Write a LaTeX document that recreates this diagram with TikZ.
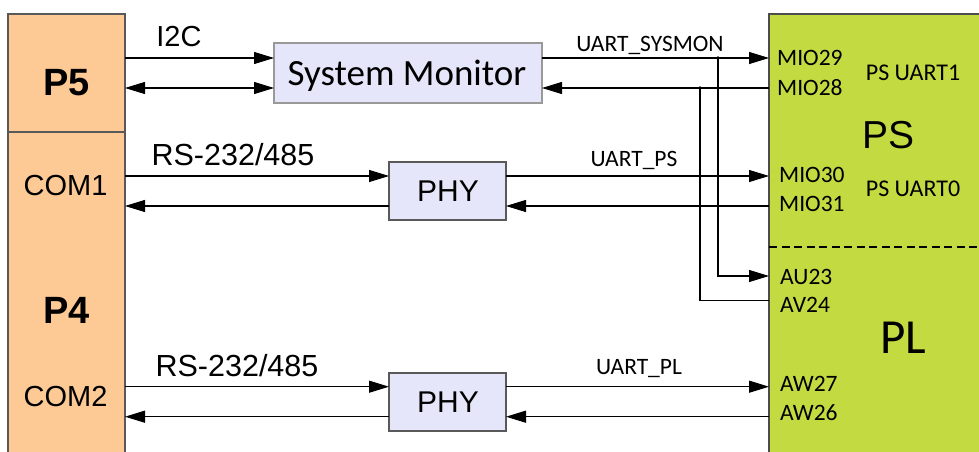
\documentclass[tikz,border=0pt]{standalone}
\usepackage{fontspec}
\setmainfont{Liberation Sans}
\newfontfamily\calfont{Carlito}
\usetikzlibrary{arrows.meta}
\definecolor{peach}{HTML}{FDCA96}
\definecolor{lav}{HTML}{E6E6FA}
\definecolor{chip}{HTML}{C3DA41}
\begin{document}
\begin{tikzpicture}[x=1pt,y=-1pt,
  blk/.style={draw=#1, line width=1.2pt, inner sep=0pt, outer sep=0pt, anchor=north west},
  lbl/.style={anchor=base, inner sep=0pt},
  lbll/.style={anchor=base west, inner sep=0pt},
  wire/.style={line width=1.1pt},
  arr/.style={wire, -{Triangle[length=20pt,width=12pt]}},
  darr/.style={wire, {Triangle[length=20pt,width=12pt]}-{Triangle[length=20pt,width=12pt]}},
  ar/.style={font=\fontsize{29}{31}\selectfont},
  rs/.style={font=\fontsize{30.5}{32}\selectfont},
  cb/.style={font=\calfont\fontsize{23.5}{26}\selectfont}
]
\useasboundingbox (0,0) rectangle (979,452);
% blocks
\node[blk=black!65, fill=peach, minimum width=117pt, minimum height=118pt] (p5) at (8,14) {};
\node[blk=black!65, fill=peach, minimum width=117pt, minimum height=322pt] (p4) at (8,132) {};
\node[blk=black!40, fill=lav, minimum width=268pt, minimum height=60pt] (sm) at (274,43) {};
\node[blk=black!65, fill=lav, minimum width=117pt, minimum height=58pt] (phy1) at (389,162) {};
\node[blk=black!65, fill=lav, minimum width=117pt, minimum height=58pt] (phy2) at (389,373) {};
\node[blk=black!70, fill=chip, minimum width=215pt, minimum height=445pt] (ps) at (769,14) {};
% texts on left
\node[lbl, font=\bfseries\fontsize{38}{40}\selectfont] (tp5) at (66.5,95) {P5};
\node[lbl, ar] (tcom1) at (65.5,195) {COM1};
\node[lbl, font=\bfseries\fontsize{38}{40}\selectfont] (tp4) at (66.5,323) {P4};
\node[lbl, ar] (tcom2) at (65.5,406.7) {COM2};
\node[lbl, ar] (ti2c) at (179,46.7) {I2C};
\node[lbl, rs] (trs1) at (233,165.7) {RS-232/485};
\node[lbl, rs] (trs2) at (237,376) {RS-232/485};
% box texts
\node[lbl, font=\calfont\fontsize{37}{40}\selectfont] (tsm) at (407,85) {System Monitor};
\node[lbl, font=\fontsize{30}{32}\selectfont] (tphy1) at (448,201.7) {PHY};
\node[lbl, font=\fontsize{30}{32}\selectfont] (tphy2) at (448,412.7) {PHY};
% signal names
\node[lbl, cb] (tus) at (650,51.7) {UART\_SYSMON};
\node[lbl, cb] (tups) at (634,166.7) {UART\_PS};
\node[lbl, cb] (tupl) at (639,374) {UART\_PL};
% pins
\node[lbll, cb] (m29) at (777,66) {MIO29};
\node[lbll, cb] (m28) at (777,95) {MIO28};
\node[lbll, cb] (m30) at (779,182.7) {MIO30};
\node[lbll, cb] (m31) at (779,211.7) {MIO31};
\node[lbll, cb] (au23) at (780,284) {AU23};
\node[lbll, cb] (av24) at (780,312.7) {AV24};
\node[lbll, cb] (aw27) at (780,391.7) {AW27};
\node[lbll, cb] (aw26) at (780,420) {AW26};
\node[lbl, font=\calfont\fontsize{24}{26}\selectfont] (pu1) at (913,80) {PS UART1};
\node[lbl, font=\calfont\fontsize{24}{26}\selectfont] (pu0) at (913,196.7) {PS UART0};
\node[lbl, font=\fontsize{39}{42}\selectfont] (tps) at (888,148.3) {PS};
\node[lbl, font=\calfont\fontsize{49}{52}\selectfont] (tpl) at (903,353.3) {PL};
% PS / PL divider
\draw[line width=2.2pt, dash pattern=on 8pt off 4.5pt] (ps.west |- 0,247) -- (ps.east |- 0,247);
% junctions
\coordinate (j1) at (718,58);
\coordinate (j2) at (700,88);
% connectors
\draw[arr] (p5.east |- 0,58) -- (sm.west |- 0,58);
\draw[darr] (p5.east |- 0,88) -- (sm.west |- 0,88);
\draw[arr] (sm.east |- 0,58) -- (ps.west |- 0,58);
\draw[arr] (ps.west |- 0,88) -- (sm.east |- 0,88);
\draw[arr] (j1) |- (ps.west |- 0,276);
\draw[wire] (ps.west |- 0,300.5) -| (j2);
\fill (j1) circle (1.8pt);
\fill (j2) circle (1.8pt);
\draw[arr] (p4.east |- 0,176) -- (phy1.west |- 0,176);
\draw[arr] (phy1.east |- 0,176) -- (ps.west |- 0,176);
\draw[arr] (ps.west |- 0,206) -- (phy1.east |- 0,206);
\draw[arr] (phy1.west |- 0,206) -- (p4.east |- 0,206);
\draw[arr] (p4.east |- 0,386.7) -- (phy2.west |- 0,386.7);
\draw[arr] (phy2.east |- 0,386.7) -- (ps.west |- 0,386.7);
\draw[arr] (ps.west |- 0,416.7) -- (phy2.east |- 0,416.7);
\draw[arr] (phy2.west |- 0,416.7) -- (p4.east |- 0,416.7);
\end{tikzpicture}
\end{document}
